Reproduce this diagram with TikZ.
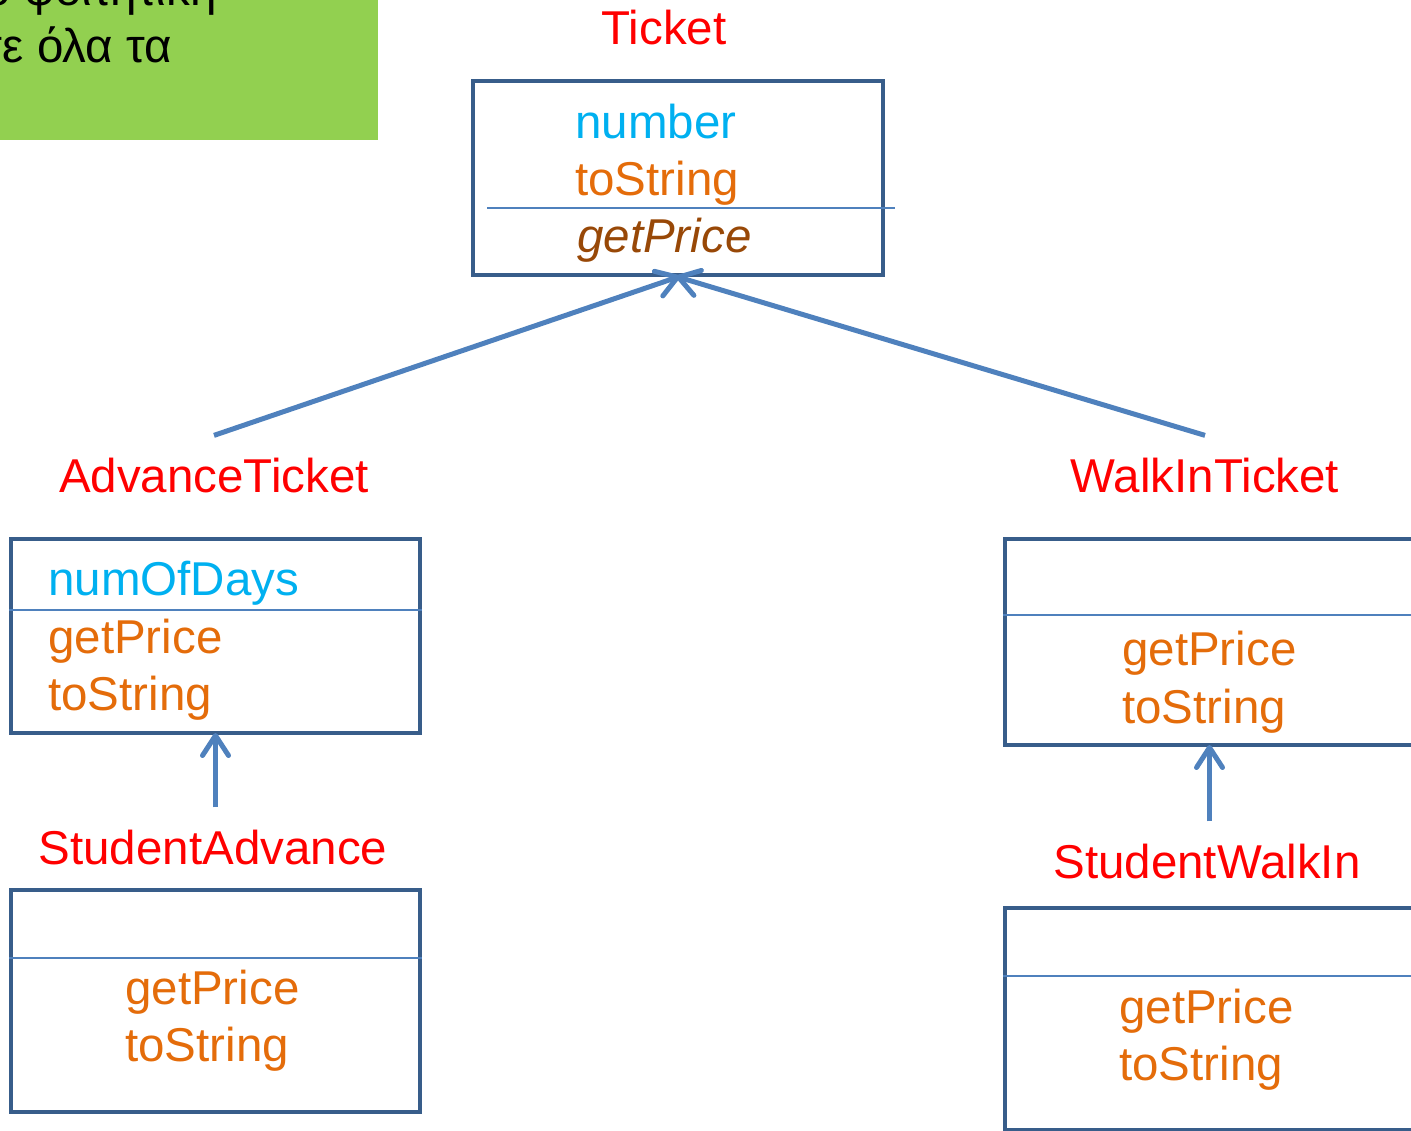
\documentclass[tikz,border=0pt]{standalone}
\usepackage{fontspec}
\setmainfont{Liberation Sans}
\usetikzlibrary{arrows.meta}
\definecolor{titlered}{HTML}{FF0000}
\definecolor{attrcyan}{HTML}{00B0F0}
\definecolor{methorange}{HTML}{E46C0A}
\definecolor{absbrown}{HTML}{984807}
\definecolor{boxblue}{HTML}{385D8A}
\definecolor{lineblue}{HTML}{4F81BD}
\definecolor{notegreen}{HTML}{92D050}
\tikzset{
  umlbox/.style={draw=boxblue, line width=4pt, inner sep=0pt, rectangle},
  divider/.style={draw=lineblue, line width=1.5pt},
  classtitle/.style={text=titlered, anchor=base, inner xsep=0pt, inner ysep=22pt, font=\fontsize{47.5}{57}\selectfont},
  member/.style={anchor=base west, inner sep=0pt, font=\fontsize{47.5}{57}\selectfont},
  attr/.style={member, text=attrcyan},
  meth/.style={member, text=methorange},
  absmeth/.style={member, text=absbrown, font=\fontsize{47.5}{57}\selectfont\itshape},
  inherit/.style={draw=lineblue, line width=5pt, shorten >=-2pt, -{Straight Barb[length=20pt,width=26pt,line width=5pt,round]}},
  notetext/.style={anchor=base east, inner sep=0pt, text=black, font=\fontsize{47.5}{57}\selectfont}
}
\begin{document}
\begin{tikzpicture}[x=1pt,y=-1pt]
\useasboundingbox (0,0) rectangle (1411,1130);
\clip (0,0) rectangle (1411,1130);
% note box
\fill[notegreen] (0,0) rectangle (378,140);
\node[notetext] (note1) at (217,5) {ο φοιτητική};
\node[notetext] (note2) at (172,62) {τε όλα τα};
% Ticket
\node[classtitle] (tTicket) at (664,44) {Ticket};
\node[umlbox, minimum width=410pt, minimum height=194pt] (ticket) at (678,178) {};
\draw[divider] (487,208) -- (895,208);
\node[attr] (tnum) at (575,138) {number};
\node[meth] (tts) at (575,195) {toString};
\node[absmeth] (tgp) at (577,252) {getPrice};
% AdvanceTicket
\node[classtitle] (tAdv) at (214,492) {AdvanceTicket};
\node[umlbox, minimum width=409pt, minimum height=194pt] (adv) at (215.5,636) {};
\draw[divider] (adv.west |- 0,610) -- (adv.east |- 0,610);
\node[attr] (anum) at (48,595) {numOfDays};
\node[meth] (agp) at (48,653) {getPrice};
\node[meth] (ats) at (48,710) {toString};
% StudentAdvance
\node[classtitle] (tSA) at (213,864) {StudentAdvance};
\node[umlbox, minimum width=409pt, minimum height=222pt] (sa) at (215.5,1001) {};
\draw[divider] (sa.west |- 0,958) -- (sa.east |- 0,958);
\node[meth] (sagp) at (125,1004) {getPrice};
\node[meth] (sats) at (125,1061) {toString};
% WalkInTicket
\node[classtitle] (tWalk) at (1205,492) {WalkInTicket};
\node[umlbox, minimum width=409pt, minimum height=206pt] (walk) at (1209.5,642) {};
\draw[divider] (walk.west |- 0,615) -- (walk.east |- 0,615);
\node[meth] (wgp) at (1122,665) {getPrice};
\node[meth] (wts) at (1122,723) {toString};
% StudentWalkIn
\node[classtitle] (tSW) at (1207,878) {StudentWalkIn};
\node[umlbox, minimum width=409pt, minimum height=222pt] (sw) at (1209.5,1019) {};
\draw[divider] (sw.west |- 0,976) -- (sw.east |- 0,976);
\node[meth] (swgp) at (1119,1023) {getPrice};
\node[meth] (swts) at (1119,1080) {toString};
% inheritance
\draw[inherit] (tAdv.north) -- (ticket.south);
\draw[inherit] (tWalk.north) -- (ticket.south);
\draw[inherit] (tSA.north -| adv.south) -- (adv.south);
\draw[inherit] (tSW.north -| walk.south) -- (walk.south);
\end{tikzpicture}
\end{document}
